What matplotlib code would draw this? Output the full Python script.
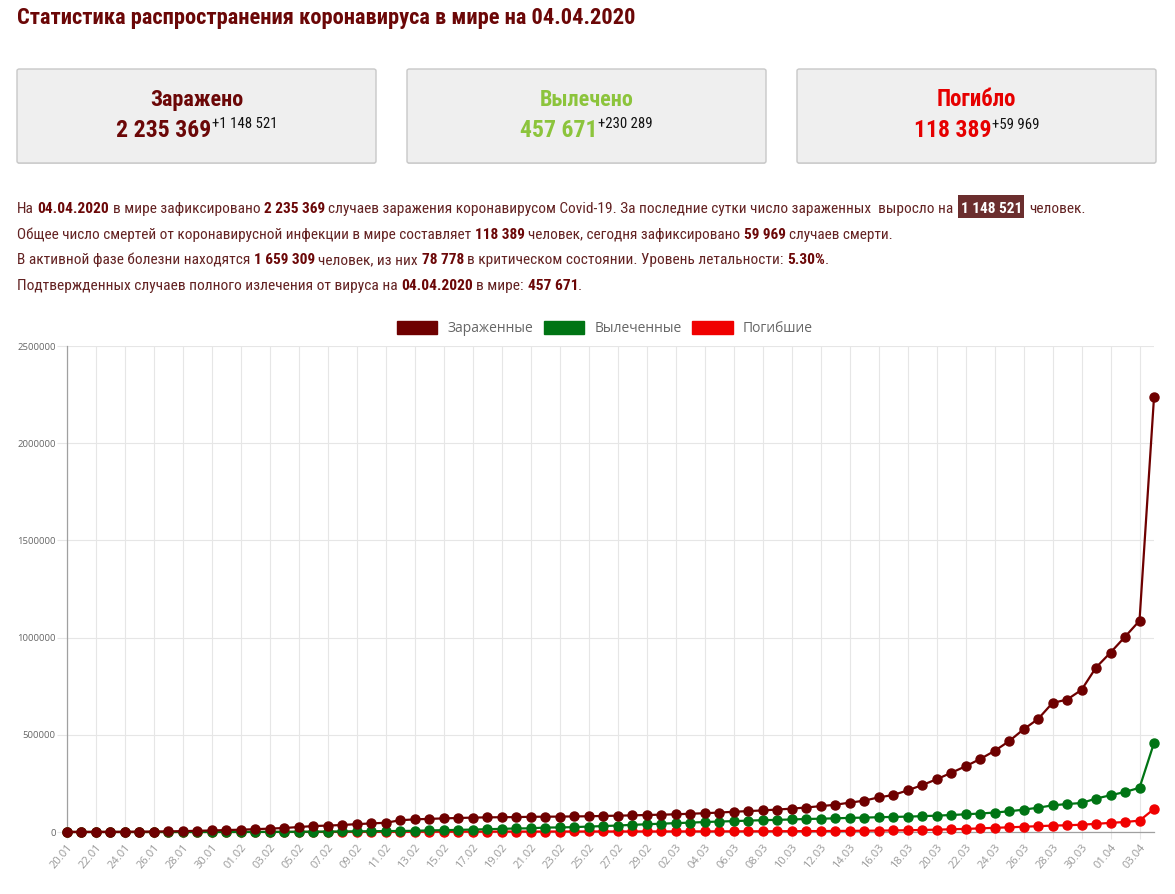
import matplotlib
matplotlib.use("Agg")
import matplotlib.pyplot as plt
import pandas as pd
from matplotlib import font_manager
from matplotlib.patches import FancyBboxPatch, Patch, Rectangle

W, H = 1175, 894

# --- data ---
dates = list(pd.date_range("2020-01-20", "2020-04-04").strftime("%d.%m"))

infected = [
    # 20.01 - 31.01
    280, 310, 560, 650, 940, 1430, 2120, 2930, 4500, 6100, 7800, 9900,
    # 01.02 - 29.02
    11900, 14500, 17400, 20600, 25500, 30500, 33000, 36000, 40500, 44000,
    47500, 60400, 65000, 67500, 70000, 72000, 74000, 75300, 76000, 76600,
    78200, 78700, 79300, 80100, 81000, 82500, 84000, 85500, 87500,
    # 01.03 - 31.03
    89000, 91000, 94000, 96500, 100000, 104000, 107500, 111000, 115500, 120000,
    126000, 133000, 140000, 151000, 161000, 178000, 190000, 214000, 241000, 271000,
    304000, 338000, 375000, 417000, 467000, 528000, 581000, 664000, 681000, 731000,
    846000,
    # 01.04 - 04.04
    923000, 1004000, 1086848, 2235369,
]
recovered = [
    0, 0, 30, 30, 40, 40, 50, 60, 100, 120, 140, 220,
    280, 470, 620, 850, 1100, 1500, 2000, 2600, 3200, 3900,
    4700, 5200, 6300, 8100, 9400, 10900, 12600, 14400, 16100, 18200,
    18900, 22900, 23400, 25200, 27900, 30400, 33300, 36700, 39800,
    42700, 45600, 48200, 51200, 53800, 55900, 58400, 60700, 62500, 64400,
    67000, 68300, 70300, 72600, 74000, 76000, 77600, 79000, 81500, 84000,
    87400, 91000, 95000, 100000, 106500, 115000, 125000, 137000, 144000, 149000,
    172000,
    189000, 206000, 227382, 457671,
]
deaths = [
    6, 6, 17, 18, 26, 42, 56, 82, 131, 133, 171, 213,
    259, 362, 426, 492, 564, 634, 719, 806, 906, 1013,
    1113, 1118, 1371, 1523, 1666, 1770, 1868, 2007, 2122, 2247,
    2251, 2458, 2469, 2629, 2708, 2770, 2814, 2872, 2941,
    2996, 3085, 3160, 3254, 3348, 3460, 3558, 3802, 3988, 4262,
    4615, 4720, 5404, 5819, 6500, 7200, 8000, 9000, 10500, 12000,
    14000, 16000, 18500, 21500, 24000, 27000, 30000, 33000, 34500, 37500,
    42000,
    47000, 51500, 58420, 118389,
]

labels = ["Зараженные", "Вылеченные", "Погибшие"]
line_colors = ["#6e0000", "#007414", "#f00000"]

# --- fonts ---
have = {f.name for f in font_manager.fontManager.ttflist}
narrow = "DejaVu Sans"
for cand in ["Liberation Sans Narrow", "Roboto Condensed", "Noto Sans Condensed",
             "Open Sans Condensed", "Noto Sans", "Roboto"]:
    if cand in have:
        narrow = cand
        break
plt.rcParams["font.family"] = [narrow, "DejaVu Sans"]

MAROON = "#6b0707"
TXT = "#632222"

fig = plt.figure(figsize=(W / 100, H / 100), dpi=100)
fig.patch.set_facecolor("white")
R = fig.canvas.get_renderer()


def space_w(size, weight):
    a = fig.text(0, 0, "x x", fontsize=size, weight=weight)
    b = fig.text(0, 0, "xx", fontsize=size, weight=weight)
    w = a.get_window_extent(R).width - b.get_window_extent(R).width
    a.remove()
    b.remove()
    return w


def place(parts, x, base, scale=1.0, draw_bg=False):
    made = []
    cx = x
    for s, size, weight, color, dy, bg in parts:
        fs = size * scale
        sw = space_w(fs, weight)
        core = s.strip(" ")
        cx += (len(s) - len(s.lstrip(" "))) * sw
        t = fig.text(cx / W, 1 - (base - dy * scale) / H, core, fontsize=fs,
                     weight=weight, color=color, va="baseline", ha="left", zorder=3)
        made.append(t)
        bb = t.get_window_extent(R)
        if bg and draw_bg:
            # highlight box: narrow at the sides, tall like the line box
            made.append(fig.add_artist(Rectangle(
                ((bb.x0 - 2.5) / W, 1 - (base + 5) / H), (bb.width + 5) / W, 23 / H,
                transform=fig.transFigure, facecolor=bg, edgecolor="none", zorder=2)))
        cx = bb.x1 + (len(s) - len(s.rstrip(" "))) * sw
    return made, cx - x


def runs(parts, x, base, width, center=False):
    made, w = place(parts, 0, base)
    for t in made:
        t.remove()
    scale = width / w
    x0 = x - width / 2 if center else x
    place(parts, x0, base, scale, draw_bg=True)


def seg(s, size=11, bold=False, color=TXT, dy=0, bg=None):
    return (s, size, "bold" if bold else "normal", color, dy, bg)


# title
runs([seg("Статистика распространения коронавируса в мире на 04.04.2020", 15, True, MAROON)],
     17, 24, 620)

# three summary boxes
boxes = [
    ("Заражено", "2 235 369", "+1 148 521", MAROON, 17, 93, 160),
    ("Вылечено", "457 671", "+230 289", "#8cc43c", 407, 94, 132),
    ("Погибло", "118 389", "+59 969", "#e60000", 797, 79, 124),
]
for title, num, delta, col, bx, tw, nw in boxes:
    fig.patches.append(FancyBboxPatch((bx / W, 1 - 164 / H), 359 / W, 94 / H,
                                      boxstyle="round,pad=0,rounding_size=0.002",
                                      transform=fig.transFigure, facecolor="#dcdcdc",
                                      edgecolor="none", zorder=0))
    fig.patches.append(FancyBboxPatch((bx / W, 1 - 163 / H), 359 / W, 94 / H,
                                      boxstyle="round,pad=0,rounding_size=0.002",
                                      transform=fig.transFigure, facecolor="#efefef",
                                      edgecolor="#c8c8c8", lw=1, zorder=1))
    cx = bx + 179.5
    runs([seg(title, 15, True, col)], cx, 106, tw, center=True)
    runs([seg(num, 16, True, col), seg(delta, 10, False, "#111111", dy=8)],
         cx, 137, nw, center=True)

# paragraph
lines = [
    ([seg("На "), seg("04.04.2020", bold=True, color=MAROON),
      seg(" в мире зафиксировано "), seg("2 235 369", bold=True, color=MAROON),
      seg(" случаев заражения коронавирусом Covid-19. За последние сутки число зараженных  выросло на  "),
      seg("1 148 521", bold=True, color="white", bg="#6b2e2e"), seg("  человек.")], 1065),
    ([seg("Общее число смертей от коронавирусной инфекции в мире составляет "),
      seg("118 389", bold=True, color=MAROON), seg(" человек, сегодня зафиксировано "),
      seg("59 969", bold=True, color=MAROON), seg(" случаев смерти.")], 877),
    ([seg("В активной фазе болезни находятся "), seg("1 659 309", bold=True, color=MAROON),
      seg(" человек, из них "), seg("78 778", bold=True, color=MAROON),
      seg(" в критическом состоянии. Уровень летальности: "),
      seg("5.30%", bold=True, color=MAROON), seg(".")], 809),
    ([seg("Подтвержденных случаев полного излечения от вируса на "),
      seg("04.04.2020", bold=True, color=MAROON), seg(" в мире: "),
      seg("457 671", bold=True, color=MAROON), seg(".")], 564),
]
for i, (parts, width) in enumerate(lines):
    runs(parts, 17, 213 + i * 25.6, width)

# --- chart ---
ax = fig.add_axes([66.7 / W, 62 / H, (1154 - 66.7) / W, (832 - 346) / H])
x = list(range(len(dates)))
for series, col, z in [(deaths, line_colors[2], 3), (recovered, line_colors[1], 4),
                       (infected, line_colors[0], 5)]:
    ax.plot(x, series, color=col, lw=1.6, marker="o", ms=6.5, mec=col,
            zorder=z, clip_on=False)

ax.set_xlim(0, len(dates) - 1)
ax.set_ylim(0, 2500000)
ax.set_xticks(x[::2])
ax.set_xticklabels(dates[::2], rotation=50, ha="right", rotation_mode="anchor",
                   fontsize=8, color="#999999", family=["Open Sans", "DejaVu Sans"])
ax.set_yticks(range(0, 2500001, 500000))
ax.set_yticklabels([str(v) for v in range(0, 2500001, 500000)], fontsize=6.8,
                   color="#666666", family=["Open Sans", "DejaVu Sans"])
ax.grid(True, color="#e6e6e6", lw=0.8, zorder=0)
ax.set_axisbelow(True)
ax.tick_params(axis="y", length=7, width=0.8, color="#e6e6e6", pad=1)
ax.tick_params(axis="x", length=5, width=0.8, color="#e6e6e6", pad=2)
for s in ["top", "right"]:
    ax.spines[s].set_visible(False)
for s in ["left", "bottom"]:
    ax.spines[s].set_color("#a0a0a0")
    ax.spines[s].set_linewidth(0.9)

handles = [Patch(facecolor=c, edgecolor=c, label=l) for c, l in zip(line_colors, labels)]
fig.legend(handles=handles, loc="center", bbox_to_anchor=(605 / W, 1 - 328.5 / H),
           ncol=3, frameon=False, handlelength=2.9, handleheight=1.05,
           handletextpad=0.75, columnspacing=0.75, labelcolor="#666666",
           prop={"family": ["Open Sans", "DejaVu Sans"], "size": 10})

fig.savefig("out.png", dpi=100)
